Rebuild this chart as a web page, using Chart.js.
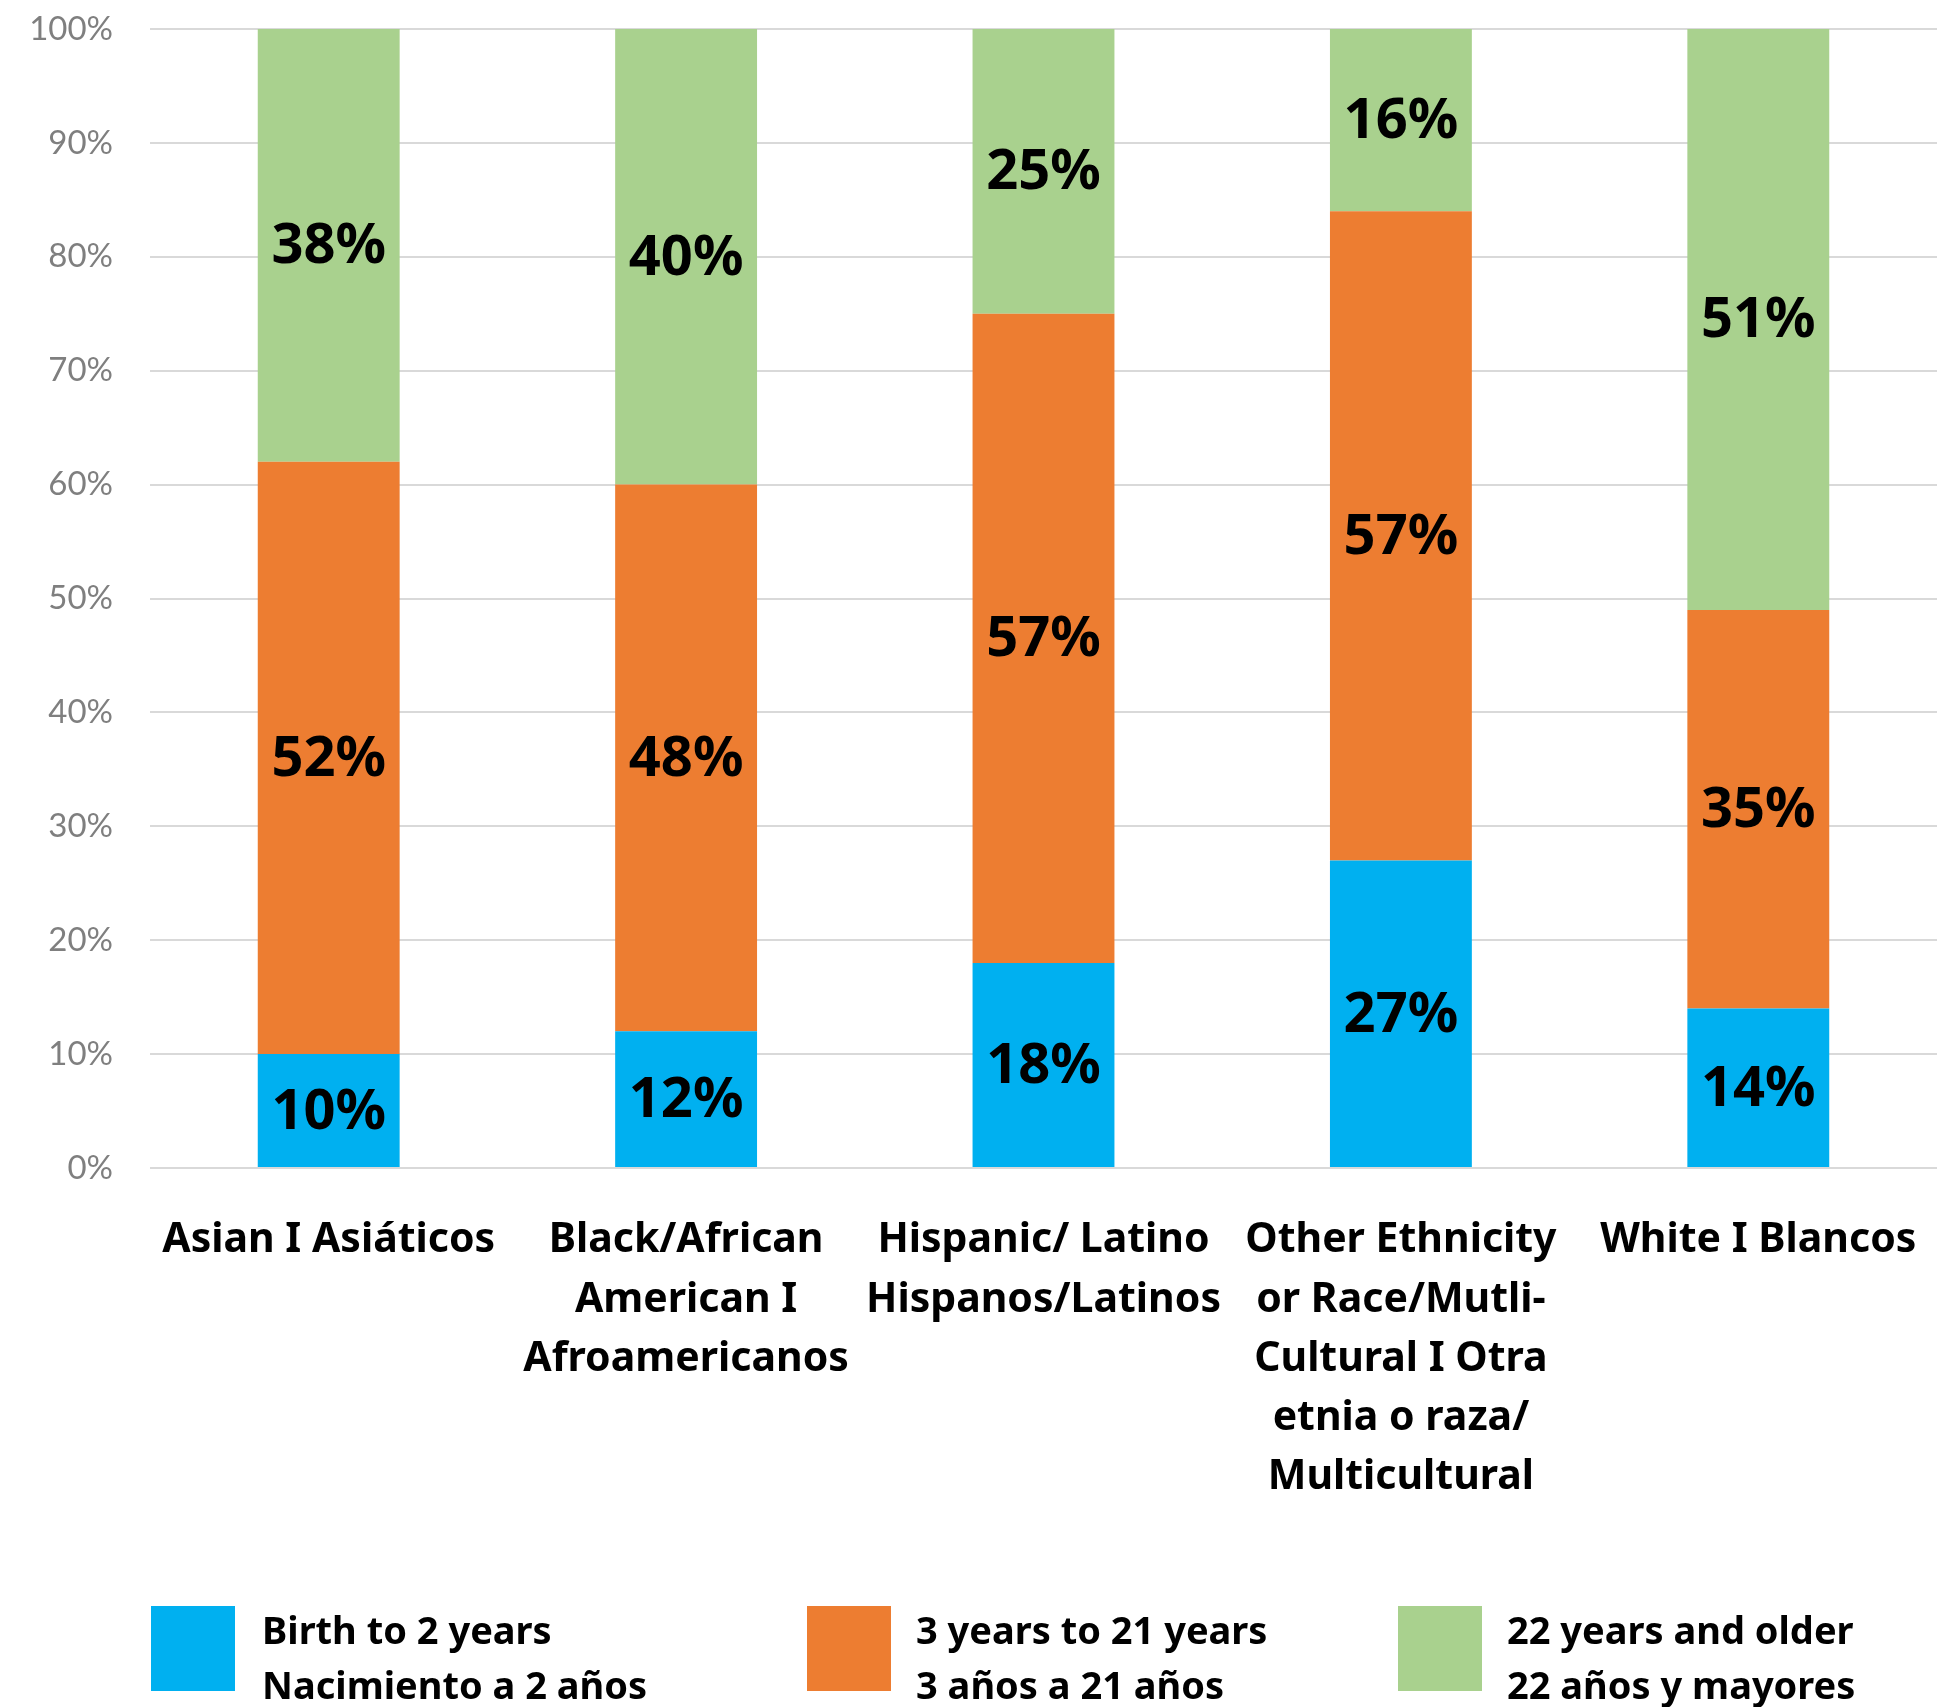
<!DOCTYPE html>
<html>
<head>
<meta charset="utf-8">
<script src="https://cdn.jsdelivr.net/npm/chart.js@4/dist/chart.umd.min.js"></script>
<style>
  html, body { margin: 0; padding: 0; background: #ffffff; }
  #wrap { width: 1955px; height: 1707px; position: relative; }
</style>
</head>
<body>
<div id="wrap"><canvas id="c" width="1955" height="1707"></canvas></div>
<script>
// ---- Data ----
const categories = [
  ['Asian I Asiáticos'],
  ['Black/African', 'American I', 'Afroamericanos'],
  ['Hispanic/ Latino', 'Hispanos/Latinos'],
  ['Other Ethnicity', 'or Race/Mutli-', 'Cultural I Otra', 'etnia o raza/', 'Multicultural'],
  ['White I Blancos']
];
const birthTo2Years = [10, 12, 18, 27, 14];
const years3To21 = [52, 48, 57, 57, 35];
const years22AndOlder = [38, 40, 25, 16, 51];
const seriesNames = [
  ['Birth to 2 years', 'Nacimiento a 2 años'],
  ['3 years to 21 years', '3 años a 21 años'],
  ['22 years and older', '22 años y mayores']
];
const yTickValues = [0, 10, 20, 30, 40, 50, 60, 70, 80, 90, 100];

// ---- Styles ----
const colors = ['#00B0F0', '#ED7D31', '#A9D18E'];
const BOLD = '"Noto Sans", "Open Sans", sans-serif';

const valueLabelPlugin = {
  id: 'valueLabels',
  afterDatasetsDraw(chart) {
    const ctx = chart.ctx;
    ctx.save();
    ctx.font = 'bold 56px ' + BOLD;
    ctx.fillStyle = '#000000';
    ctx.textAlign = 'center';
    ctx.textBaseline = 'middle';
    chart.data.datasets.forEach((ds, di) => {
      const meta = chart.getDatasetMeta(di);
      meta.data.forEach((el, i) => {
        const v = ds.data[i];
        const p = el.getProps(['x', 'y', 'base'], true);
        ctx.fillText(v + '%', p.x, (p.y + p.base) / 2 + 2);
      });
    });
    ctx.restore();
  }
};

const customLegendPlugin = {
  id: 'customLegend',
  afterDraw(chart, args, opts) {
    const ctx = chart.ctx;
    ctx.save();
    ctx.font = 'bold 38px ' + BOLD;
    ctx.textAlign = 'left';
    ctx.textBaseline = 'alphabetic';
    chart.data.datasets.forEach((ds, di) => {
      const bx = opts.boxX[di];
      ctx.fillStyle = ds.backgroundColor;
      ctx.fillRect(bx, opts.boxY, opts.boxW, opts.boxH);
      ctx.fillStyle = '#000000';
      const lines = seriesNames[di];
      lines.forEach((ln, li) => {
        ctx.fillText(ln, opts.textX[di], opts.baseline + li * opts.lineGap);
      });
    });
    ctx.restore();
  }
};

new Chart(document.getElementById('c'), {
  type: 'bar',
  data: {
    labels: categories,
    datasets: [
      { label: seriesNames[0].join(' '), data: birthTo2Years, backgroundColor: colors[0] },
      { label: seriesNames[1].join(' '), data: years3To21, backgroundColor: colors[1] },
      { label: seriesNames[2].join(' '), data: years22AndOlder, backgroundColor: colors[2] }
    ]
  },
  options: {
    responsive: false,
    animation: false,
    devicePixelRatio: 1,
    barPercentage: 0.397,
    categoryPercentage: 1,
    layout: { padding: { top: 29, left: 0, right: 18, bottom: 160 } },
    plugins: {
      legend: { display: false },
      tooltip: { enabled: false },
      customLegend: {
        boxX: [151, 807, 1398],
        textX: [262, 916, 1507],
        boxY: 1606, boxW: 84, boxH: 85,
        baseline: 1644, lineGap: 55
      }
    },
    scales: {
      x: {
        stacked: true,
        grid: { display: false, drawTicks: false },
        border: { display: false },
        ticks: {
          autoSkip: false,
          maxRotation: 0,
          minRotation: 0,
          padding: 43,
          color: '#000000',
          font: { family: BOLD, size: 41, weight: 'bold', lineHeight: 1.445 }
        },
        afterFit(scale) {
          scale.height = 379;
          scale.paddingLeft = 0;
          scale.paddingRight = 0;
        }
      },
      y: {
        stacked: true,
        min: 0,
        max: 100,
        afterBuildTicks(scale) { scale.ticks = yTickValues.map(v => ({ value: v })); },
        grid: { color: '#D9D9D9', lineWidth: 2, drawTicks: false },
        border: { display: false },
        ticks: {
          padding: 37,
          color: '#7F7F7F',
          font: { family: 'Lato, sans-serif', size: 33 },
          callback: v => v + '%'
        },
        afterFit(scale) {
          scale.width = 150;
          scale.paddingTop = 0;
          scale.paddingBottom = 0;
        }
      }
    }
  },
  plugins: [valueLabelPlugin, customLegendPlugin]
});
</script>
</body>
</html>
